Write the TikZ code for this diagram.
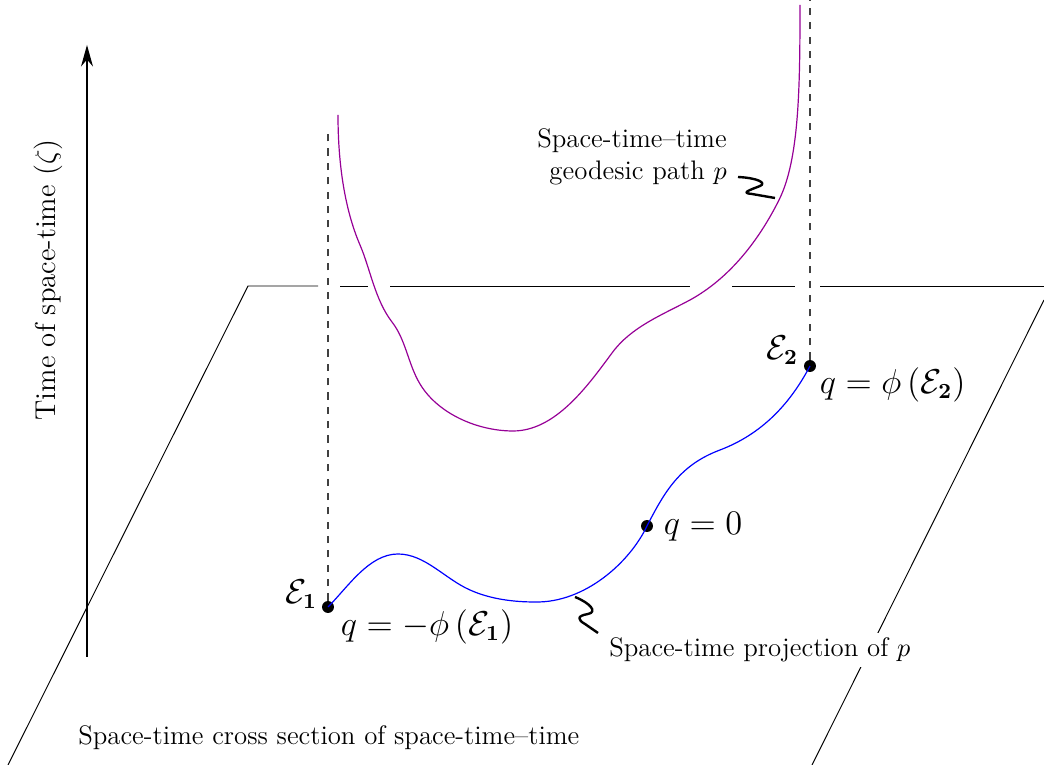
\documentclass[tikz,border=0pt]{standalone}
\usepackage{amsmath}
\usetikzlibrary{arrows.meta}
\definecolor{geo}{RGB}{150,0,150}
\tikzset{
  plane/.style={black, line width=0.4pt},
  proj/.style={dashed, black!75, line width=0.5pt},
  pt/.style={circle, fill=black, inner sep=0pt, minimum size=5pt},
  lbl/.style={inner sep=1pt, font=\fontsize{13.3}{16}\selectfont},
  txt/.style={inner sep=2pt, font=\fontsize{11.2}{13.5}\selectfont},
  squig/.style={line width=1pt, line join=round}
}
\begin{document}
\begin{tikzpicture}[x=0.0147cm, y=-0.0147cm]
\useasboundingbox (0,0) rectangle (1044,765);
% vertical axis
\coordinate (ab) at (87,657);
\coordinate (at) at (87,45);
\draw[-{Stealth[length=9pt,width=5pt]}, line width=0.5pt] (ab) -- (at);
\node[inner sep=0pt, rotate=90, font=\fontsize{12}{15}\selectfont] (axl) at (48,280) {Time of space-time ($\zeta$)};
% plane
\coordinate (p1) at (248,286);
\coordinate (p0) at (8,765);
\coordinate (p2) at (1044,300);
\coordinate (p3) at (812,765);
\draw[plane] (p0) -- (p1) -- (318,286);
\draw[plane] (340,286) -- (368,286);
\draw[plane] (390,286) -- (690,286);
\draw[plane] (732,286) -- (795,286);
\draw[plane] (820,286) -- (1044,286);
\draw[plane] (p2) -- (p3);
% points
\node[pt] (e1) at (328,607) {};
\node[pt] (e2) at (810,366) {};
\node[pt] (q0) at (647,526) {};
% dashed projections
\coordinate (d1) at (328,130);
\coordinate (d2) at (810,0);
\draw[proj] (e1) -- (d1);
\draw[proj] (e2) -- (d2);
% projected curve
\draw[blue, line width=0.5pt] (e1.center)
  .. controls (348,587) and (369,554) .. (398,554)
  .. controls (425,554) and (445,579) .. (470,590)
  .. controls (490,599) and (513,602) .. (535,602)
  .. controls (585,603) and (630,562) .. (q0.center)
  .. controls (665,491) and (680,465) .. (720,450)
  .. controls (762,434) and (790,404) .. (e2.center);
% geodesic curve
\coordinate (g0) at (338,115);
\coordinate (g1) at (800,5);
\draw[geo, line width=0.5pt] (g0)
  .. controls (338,165) and (345,210) .. (360,245)
  .. controls (370,268) and (375,300) .. (392,322)
  .. controls (406,340) and (408,364) .. (420,384)
  .. controls (438,414) and (478,431) .. (513,431)
  .. controls (555,431) and (587,387) .. (612,353)
  .. controls (631,327) and (662,315) .. (690,300)
  .. controls (730,278) and (759,240) .. (779,200)
  .. controls (799,160) and (800,90) .. (g1);
% labels
\node[lbl, anchor=east] (e1l) at (320,594) {$\mathcal{E}_{\boldsymbol{1}}$};
\node[lbl, anchor=north west] (q1l) at (338,607) {$q=-\phi\,(\mathcal{E}_{\boldsymbol{1}})$};
\node[lbl, anchor=east] (e2l) at (801,350) {$\mathcal{E}_{\boldsymbol{2}}$};
\node[lbl, anchor=north west] (q2l) at (817,365) {$q=\phi\,(\mathcal{E}_{\boldsymbol{2}})$};
\node[lbl, anchor=west] (q0l) at (661,527) {$q=0$};
\node[txt, align=right, anchor=east] (gl) at (732,157) {Space-time--time\\geodesic path $p$};
\node[txt, fill=white, anchor=west] (pl) at (604,650) {Space-time projection of $p$};
\node[txt, anchor=west] (cs) at (73,738) {Space-time cross section of space-time--time};
% squiggles
\coordinate (s1) at (738,177);
\coordinate (s2) at (775,198);
\draw[squig] (s1) .. controls (758,178) and (767,183) .. (760,186)
  .. controls (750,190) and (740,193) .. (752,194) -- (s2);
\coordinate (s3) at (575,597);
\coordinate (s4) at (598,633);
\draw[squig] (s3) .. controls (590,603) and (598,612) .. (588,614)
  .. controls (576,616) and (578,620) .. (585,624) -- (s4);
\end{tikzpicture}
\end{document}
